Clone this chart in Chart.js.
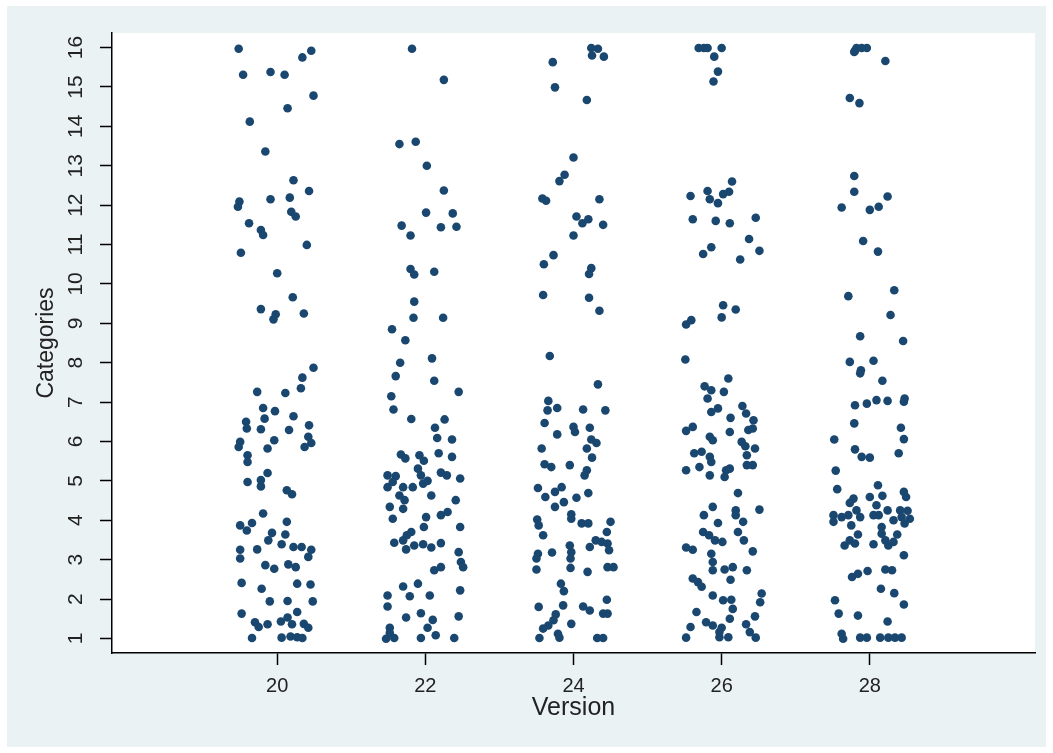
<!DOCTYPE html>
<html>
<head>
<meta charset="utf-8">
<script src="https://cdn.jsdelivr.net/npm/chart.js@4.4.0/dist/chart.umd.min.js"></script>
<style>
  body { margin: 0; background: #fff; }
  #wrap { width: 1053px; height: 753px; }
</style>
</head>
<body>
<div id="wrap"><canvas id="chart" width="1053" height="753"></canvas></div>
<script>
// Tick labels
const xTicks = [20, 22, 24, 26, 28]
const yTicks = [1, 2, 3, 4, 5, 6, 7, 8, 9, 10, 11, 12, 13, 14, 15, 16]

// Jittered points per version, [version, category]
const v20 = [
  [19.48, 15.97], [20.46, 15.92], [20.34, 15.75], [19.54, 15.31], [19.91, 15.38], [20.10, 15.31], [20.49, 14.78], [20.14, 14.46], [19.63, 14.12], [19.84, 13.36],
  [20.22, 12.63], [20.43, 12.36], [19.49, 12.09], [19.47, 11.96], [19.91, 12.15], [20.17, 12.19], [20.19, 11.83], [20.25, 11.71], [19.62, 11.54], [19.78, 11.37],
  [19.81, 11.24], [20.40, 10.99], [19.51, 10.79], [20.00, 10.27], [20.21, 9.66], [19.78, 9.36], [19.98, 9.23], [19.95, 9.10], [20.36, 9.25],
  [20.49, 7.87], [20.34, 7.62], [20.32, 7.35], [19.73, 7.26], [20.11, 7.23], [19.81, 6.85], [19.97, 6.77], [20.22, 6.64], [19.83, 6.58], [19.58, 6.50],
  [20.43, 6.41], [19.59, 6.33], [19.78, 6.31], [20.16, 6.29], [20.42, 6.12], [19.50, 5.99], [19.48, 5.86], [19.96, 6.03], [19.87, 5.82], [20.37, 5.86],
  [20.46, 5.96], [19.60, 5.65], [19.60, 5.48], [19.87, 5.20], [19.60, 4.97], [19.78, 5.02], [19.78, 4.86], [20.13, 4.76], [20.20, 4.66], [19.81, 4.17],
  [19.50, 3.87], [19.66, 3.93], [19.59, 3.74], [20.13, 3.96], [19.93, 3.68], [19.88, 3.49], [20.11, 3.64], [20.06, 3.39], [20.22, 3.32], [20.33, 3.32],
  [20.46, 3.25], [19.73, 3.26], [19.50, 3.25], [19.50, 3.03], [20.42, 3.07], [19.84, 2.86], [19.96, 2.77], [20.15, 2.88], [20.25, 2.81], [19.52, 2.41],
  [19.79, 2.26], [20.27, 2.39], [20.45, 2.37], [19.90, 1.94], [20.14, 1.95], [20.48, 1.94], [19.52, 1.63], [20.27, 1.67], [19.70, 1.41], [19.75, 1.29],
  [19.87, 1.36], [20.05, 1.43], [20.14, 1.53], [20.20, 1.36], [20.36, 1.37], [20.42, 1.27], [19.66, 1.01], [20.06, 1.02], [20.18, 1.05], [20.27, 1.03], [20.34, 1.01]
]

const v22 = [
  [21.82, 15.97], [22.25, 15.18], [21.65, 13.55], [21.87, 13.61], [22.02, 13.00], [22.25, 12.37], [22.01, 11.81], [22.37, 11.79], [21.68, 11.48], [22.21, 11.44],
  [22.42, 11.45], [21.80, 11.23], [21.80, 10.38], [21.85, 10.24], [22.12, 10.31], [21.85, 9.55], [21.84, 9.14], [22.24, 9.14], [21.55, 8.85], [21.73, 8.57],
  [21.66, 8.00], [22.09, 8.11], [21.60, 7.66], [22.12, 7.54], [22.45, 7.26], [21.54, 7.15], [21.57, 6.81], [21.81, 6.57], [22.26, 6.56], [22.13, 6.35],
  [22.16, 6.09], [22.36, 6.05], [21.67, 5.67], [21.73, 5.57], [21.92, 5.65], [21.98, 5.51], [22.18, 5.70], [22.36, 5.61], [21.90, 5.31], [21.94, 5.14],
  [22.21, 5.21], [22.29, 5.14], [22.47, 5.06], [21.49, 5.14], [21.60, 5.12], [21.49, 4.84], [21.56, 4.97], [21.70, 4.84], [21.83, 4.84], [21.97, 4.93],
  [22.03, 5.00], [21.65, 4.63], [21.72, 4.51], [22.08, 4.63], [22.41, 4.51], [21.52, 4.34], [21.56, 4.04], [21.70, 4.29], [22.01, 4.08], [22.21, 4.13],
  [22.30, 4.21], [21.98, 3.83], [22.47, 3.83], [21.81, 3.70], [21.75, 3.62], [21.70, 3.49], [21.58, 3.43], [21.74, 3.26], [21.85, 3.36], [21.97, 3.39],
  [22.08, 3.31], [22.21, 3.42], [22.45, 3.19], [22.48, 2.94], [22.51, 2.81], [22.21, 2.81], [22.12, 2.73], [21.70, 2.32], [21.90, 2.39], [21.49, 2.09],
  [21.79, 2.07], [22.06, 2.09], [22.47, 2.22], [21.49, 1.81], [21.74, 1.53], [21.94, 1.64], [22.10, 1.47], [22.45, 1.56], [22.03, 1.27], [21.52, 1.27],
  [21.52, 1.14], [21.47, 0.99], [21.94, 1.01], [22.14, 1.08], [22.39, 1.01], [21.58, 1.01]
]

const v24 = [
  [24.24, 15.99], [24.33, 15.97], [24.25, 15.80], [24.41, 15.77], [23.72, 15.63], [23.75, 14.99], [24.18, 14.67], [24.00, 13.21], [23.88, 12.77], [23.81, 12.61],
  [23.58, 12.17], [23.63, 12.11], [24.35, 12.15], [24.04, 11.71], [24.12, 11.54], [24.20, 11.64], [24.40, 11.50], [24.00, 11.23], [23.73, 10.73], [23.60, 10.50],
  [24.24, 10.40], [24.21, 10.25], [23.59, 9.72], [24.21, 9.65], [24.35, 9.32],
  [23.68, 8.17], [24.33, 7.45], [23.66, 7.03], [23.65, 6.79], [23.78, 6.85], [24.13, 6.81], [24.43, 6.79], [23.61, 6.47], [23.78, 6.18], [24.00, 6.37],
  [24.02, 6.24], [24.22, 6.35], [24.24, 6.05], [24.31, 5.96], [24.18, 5.82], [23.57, 5.82], [24.25, 5.59], [23.61, 5.42], [23.70, 5.35], [23.95, 5.40],
  [24.18, 5.27], [24.15, 5.14], [23.52, 4.82], [23.62, 4.59], [23.75, 4.72], [23.84, 4.84], [23.87, 4.46], [23.75, 4.34], [24.04, 4.57], [24.20, 4.69],
  [23.97, 4.15], [23.97, 4.04], [24.11, 3.92], [24.20, 3.92], [24.50, 3.96], [23.51, 4.02], [23.53, 3.87], [23.59, 3.62], [24.45, 3.70], [24.30, 3.49],
  [24.38, 3.45], [24.46, 3.41], [24.22, 3.32], [24.48, 3.24], [23.95, 3.36], [23.97, 3.19], [23.71, 3.18], [23.52, 3.15], [23.50, 3.03], [23.96, 3.03],
  [23.50, 2.75], [23.96, 2.79], [24.19, 2.69], [24.46, 2.81], [24.54, 2.81], [23.83, 2.39], [23.87, 2.20], [24.45, 1.98], [23.53, 1.80], [23.86, 1.84],
  [24.13, 1.81], [24.22, 1.71], [24.40, 1.63], [24.46, 1.63], [23.76, 1.61], [23.73, 1.46], [23.66, 1.33], [23.59, 1.25], [23.97, 1.37], [23.79, 1.12],
  [23.81, 1.02], [23.54, 1.01], [24.32, 1.01], [24.40, 1.01]
]

const v26 = [
  [25.69, 15.99], [25.76, 15.99], [25.81, 15.99], [26.00, 15.99], [25.90, 15.77], [25.95, 15.39], [25.89, 15.14], [26.14, 12.60], [26.10, 12.34], [26.02, 12.28],
  [25.81, 12.36], [25.58, 12.23], [25.84, 12.15], [25.95, 12.05], [25.61, 11.64], [25.92, 11.60], [26.11, 11.54], [26.46, 11.68], [26.37, 11.14], [26.51, 10.84],
  [25.86, 10.93], [25.75, 10.76], [26.25, 10.62], [26.02, 9.46], [26.19, 9.35], [26.00, 9.15], [25.59, 9.08], [25.52, 8.97],
  [25.51, 8.08], [26.09, 7.60], [25.77, 7.40], [25.86, 7.30], [26.03, 7.26], [25.81, 7.09], [25.95, 6.84], [25.86, 6.75], [26.28, 6.90], [26.12, 6.60],
  [26.33, 6.71], [26.43, 6.54], [25.61, 6.37], [25.52, 6.27], [26.11, 6.24], [26.36, 6.29], [26.42, 6.33], [25.84, 6.12], [25.88, 6.03], [26.27, 5.99],
  [26.32, 5.88], [26.45, 5.82], [25.63, 5.70], [25.73, 5.74], [25.84, 5.61], [25.86, 5.48], [26.34, 5.65], [26.34, 5.40], [26.42, 5.40], [25.52, 5.27],
  [25.70, 5.35], [25.84, 5.14], [26.06, 5.27], [26.11, 5.31], [26.04, 5.10], [26.22, 4.69], [26.19, 4.25], [26.19, 4.13], [26.51, 4.27], [25.88, 4.34],
  [25.76, 4.13], [26.29, 3.96], [25.95, 3.93], [25.75, 3.70], [25.83, 3.62], [26.22, 3.70], [25.91, 3.49], [26.01, 3.45], [26.30, 3.49], [25.52, 3.31],
  [25.61, 3.25], [25.86, 3.15], [26.42, 3.21], [25.88, 2.94], [26.04, 2.75], [26.15, 2.81], [26.34, 2.73], [25.88, 2.73], [25.61, 2.52], [25.68, 2.43],
  [25.73, 2.31], [26.12, 2.49], [25.88, 2.09], [26.02, 1.97], [26.13, 1.98], [26.54, 2.14], [26.52, 1.92], [26.15, 1.75], [25.66, 1.67], [26.11, 1.50],
  [26.45, 1.56], [25.79, 1.41], [25.88, 1.33], [26.00, 1.27], [26.33, 1.36], [25.58, 1.29], [25.97, 1.03], [26.09, 1.03], [25.52, 1.02], [26.38, 1.16],
  [26.46, 1.02], [25.97, 1.16]
]

const v28 = [
  [27.80, 15.92], [27.82, 15.99], [27.89, 15.99], [27.96, 15.99], [27.79, 15.89], [28.21, 15.66], [27.73, 14.72], [27.86, 14.59], [27.79, 12.74], [27.79, 12.34],
  [28.24, 12.22], [27.62, 11.94], [28.00, 11.88], [28.12, 11.96], [27.91, 11.09], [28.11, 10.82], [27.71, 9.69], [28.33, 9.84], [28.28, 9.21], [27.87, 8.67], [28.45, 8.55],
  [27.73, 8.02], [27.88, 7.81], [28.05, 8.05], [27.87, 7.73], [28.17, 7.54], [27.80, 6.92], [27.96, 6.96], [28.09, 7.05], [28.24, 7.03], [28.47, 7.09],
  [28.46, 7.01], [27.79, 6.46], [28.42, 6.35], [27.52, 6.05], [28.46, 6.06], [27.80, 5.80], [27.89, 5.61], [28.00, 5.59], [28.39, 5.70], [27.54, 5.26],
  [28.11, 4.89], [27.56, 4.79], [28.46, 4.72], [28.49, 4.59], [28.17, 4.62], [28.00, 4.59], [27.78, 4.55], [27.73, 4.44], [28.09, 4.38], [27.82, 4.25],
  [28.24, 4.25], [28.41, 4.25], [28.51, 4.24], [28.43, 4.08], [28.54, 4.04], [28.47, 3.92], [27.51, 4.13], [27.51, 3.96], [27.62, 4.08], [27.71, 4.13],
  [27.87, 4.08], [28.05, 4.13], [28.12, 4.13], [27.75, 3.87], [28.32, 4.00], [28.16, 3.83], [28.16, 3.66], [27.84, 3.64], [28.37, 3.64], [27.73, 3.49],
  [27.66, 3.36], [27.80, 3.41], [28.05, 3.39], [28.21, 3.49], [28.25, 3.36], [28.32, 3.45], [28.46, 3.11], [27.76, 2.56], [27.84, 2.64], [27.97, 2.71],
  [28.21, 2.75], [28.30, 2.73], [28.15, 2.26], [28.33, 2.15], [27.53, 1.97], [28.46, 1.86], [27.58, 1.63], [27.84, 1.58], [28.24, 1.43], [27.62, 1.12],
  [27.64, 0.99], [27.87, 1.02], [27.96, 1.02], [28.14, 1.02], [28.25, 1.02], [28.34, 1.02], [28.43, 1.02]
]

const groups = [v20, v22, v24, v26, v28]

const navy = '#1a476f'
const textColor = '#222'
const fontFamily = "'Liberation Sans', Arial, sans-serif"

// Stata-like backgrounds: light outer region, white plot region
const backdrop = {
  id: 'backdrop',
  beforeDraw (chart) {
    const { ctx, chartArea } = chart
    ctx.save()
    ctx.fillStyle = '#ffffff'
    ctx.fillRect(0, 0, chart.width, chart.height)
    ctx.fillStyle = '#eaf2f3'
    ctx.fillRect(7, 6, 1039, 741)
    ctx.fillStyle = '#ffffff'
    ctx.fillRect(chartArea.left, chartArea.top, chartArea.right - chartArea.left, chartArea.bottom - chartArea.top)
    ctx.restore()
  }
}

const datasets = groups.map(points => ({
  data: points.map(p => ({ x: p[0], y: p[1] })),
  backgroundColor: navy,
  borderWidth: 0,
  pointRadius: 4.3,
  pointHoverRadius: 4.3
}))

new Chart(document.getElementById('chart'), {
  type: 'scatter',
  data: { datasets },
  options: {
    responsive: false,
    animation: false,
    events: [],
    layout: { padding: { left: 0, right: 18, top: 33, bottom: 0 } },
    plugins: {
      legend: { display: false },
      tooltip: { enabled: false }
    },
    scales: {
      x: {
        type: 'linear',
        min: 17.77,
        max: 30.23,
        afterBuildTicks: (scale) => { scale.ticks = xTicks.map(v => ({ value: v })) },
        afterFit: (scale) => { scale.height = 100 },
        grid: { display: true, drawOnChartArea: false, drawTicks: true, tickLength: 12, tickColor: '#000', tickWidth: 1.5 },
        border: { display: true, color: '#000', width: 1.5 },
        ticks: { autoSkip: false, maxRotation: 0, padding: 9, color: textColor, font: { family: fontFamily, size: 20 } },
        title: { display: true, text: 'Version', color: textColor, font: { family: fontFamily, size: 25 }, padding: { top: 0, bottom: 30 } }
      },
      y: {
        type: 'linear',
        min: 0.63,
        max: 16.37,
        afterBuildTicks: (scale) => { scale.ticks = yTicks.map(v => ({ value: v })) },
        afterFit: (scale) => { scale.width = 112 },
        grid: { display: true, drawOnChartArea: false, drawTicks: true, tickLength: 12, tickColor: '#000', tickWidth: 1.5 },
        border: { display: true, color: '#000', width: 1.5 },
        ticks: { autoSkip: false, minRotation: 90, maxRotation: 90, crossAlign: 'center', padding: 12, color: textColor, font: { family: fontFamily, size: 21 } },
        title: { display: true, text: 'Categories', color: textColor, font: { family: fontFamily, size: 23 }, padding: { top: 33, bottom: 0 } }
      }
    }
  },
  plugins: [backdrop]
})
</script>
</body>
</html>
